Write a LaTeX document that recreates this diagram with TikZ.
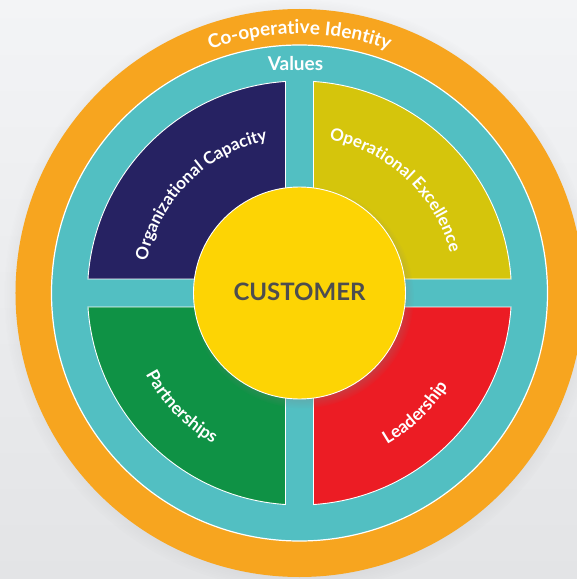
\documentclass[tikz,border=0pt]{standalone}
\usepackage{fontspec}
\setmainfont{Lato}
\usetikzlibrary{decorations.text,shadows,fadings}

\definecolor{bgtop}{HTML}{F3F4F6}
\definecolor{bgbot}{HTML}{E3E4E6}
\definecolor{ringorange}{HTML}{F7A51F}
\definecolor{ringteal}{HTML}{52BFC2}
\definecolor{qnavy}{HTML}{262262}
\definecolor{qolive}{HTML}{D5C50C}
\definecolor{qgreen}{HTML}{0F9245}
\definecolor{qred}{HTML}{EC1C24}
\definecolor{coreyellow}{HTML}{FDD404}
\definecolor{coretext}{HTML}{4D4D4F}

% fonts for the curved labels
\newcommand\quadfont{\fontsize{17}{19}\selectfont\bfseries\color{white}}
\newcommand\lowquadfont{\fontsize{17.5}{19}\selectfont\bfseries\color{white}}
\newcommand\ringfont{\fontsize{19}{22}\selectfont\bfseries\color{white}}

\begin{document}
\begin{tikzpicture}[x=1pt,y=1pt,
  quadrant/.style={draw=white, line width=0.9pt},
  arclabel/.style={decorate, decoration={text along path, text align=center, text={#1}}},
]
% page and background
\fill[top color=bgtop, bottom color=bgbot] (-299.5,-286) rectangle (277.5,293);
\useasboundingbox (-299.5,-286) rectangle (277.5,293);

% outer rings
\fill[ringorange, circular drop shadow={shadow scale=1.04, shadow xshift=0pt, shadow yshift=-2pt, opacity=0.25}] (0,0) circle (284);
\filldraw[fill=ringteal, draw=white, line width=1.2pt] (0,0) circle (248);

% the four quadrants
\filldraw[quadrant, fill=qnavy]  (-14,14)  -- (-14,211.54) arc[start angle=93.786,  end angle=176.214, radius=212] -- cycle;
\filldraw[quadrant, fill=qolive] (14,14)   -- (211.54,14)  arc[start angle=3.786,   end angle=86.214,  radius=212] -- cycle;
\filldraw[quadrant, fill=qgreen] (-14,-14) -- (-211.54,-14) arc[start angle=183.786, end angle=266.214, radius=212] -- cycle;
\filldraw[quadrant, fill=qred]   (14,-14)  -- (14,-211.54) arc[start angle=273.786, end angle=356.214, radius=212] -- cycle;

% curved labels
\path[arclabel={|\ringfont|Co-operative Identity}] (150:259) arc[start angle=150, end angle=30, radius=259];
\path[arclabel={|\quadfont|Organizational Capacity}] (195:156) arc[start angle=195, end angle=75, radius=156];
\path[arclabel={|\quadfont|Operational Excellence}] (107:156) arc[start angle=107, end angle=-13, radius=156];
\path[arclabel={|\lowquadfont|Partnerships}] (174:174) arc[start angle=174, end angle=274, radius=174];
\path[arclabel={|\lowquadfont|Leadership}] (264:175) arc[start angle=264, end angle=364, radius=175];

% centre
\node[circle, fill=coreyellow, draw=white, line width=0.9pt, minimum size=212pt, inner sep=0pt,
  circular drop shadow={shadow scale=1.05, shadow xshift=3pt, shadow yshift=-4pt, opacity=0.45}] (core) at (0,0) {};
\node[font=\fontsize{24}{28}\selectfont\bfseries, text=coretext, inner sep=0pt] (customer) at (0,1.5) {CUSTOMER};
\node[font=\fontsize{19}{21}\selectfont\bfseries, text=white, anchor=base, inner sep=0pt] (values) at (-4,222) {Values};
\end{tikzpicture}
\end{document}
